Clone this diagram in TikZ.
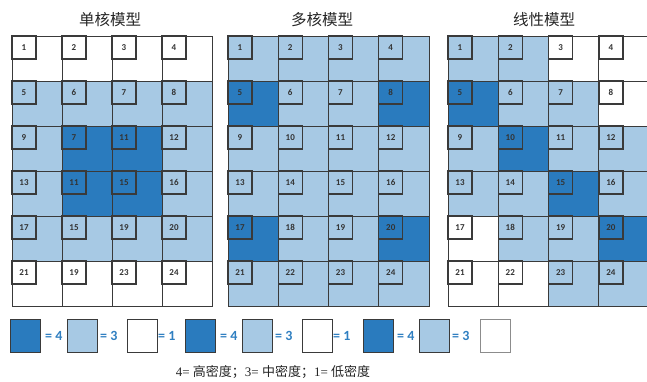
\documentclass[tikz,border=0pt]{standalone}
\usepackage{fontspec}
\setmainfont{Liberation Serif}
\newfontfamily\cjkfont{Noto Sans CJK SC}
\newfontfamily\numfont{Carlito}
\definecolor{D}{HTML}{2A7BBE}
\definecolor{L}{HTML}{A7C9E4}
\definecolor{W}{HTML}{FFFFFF}
\definecolor{edgec}{HTML}{3A3A3A}
\definecolor{legc}{HTML}{2F7FC1}
\tikzset{
  cellbox/.style={draw=edgec, line width=0.9pt, minimum width=#1, minimum height=45pt, anchor=north west, inner sep=0pt, outer sep=0pt},
  tagbox/.style={draw=edgec, line width=1.2pt, minimum width=24pt, minimum height=23pt, anchor=north west, inner sep=0pt, outer sep=0pt, text=black!80, font=\numfont\bfseries\fontsize{9}{9}\selectfont},
  legbox/.style={draw=edgec, line width=1.1pt, minimum width=30pt, minimum height=33pt, anchor=north west, inner sep=0pt},
  legtext/.style={anchor=west, inner sep=0pt, text=legc, font=\numfont\bfseries\fontsize{14}{14}\selectfont},
  titletext/.style={text=black!85, font=\cjkfont\fontsize{15.5}{15.5}\selectfont},
}
\newcommand\gridpanel[4]{%
  \foreach \f/\n [count=\i from 0] in {#4} {
    \pgfmathtruncatemacro\rr{int(\i/4)}
    \pgfmathtruncatemacro\cc{mod(\i,4)}
    \node[cellbox=#3pt, fill=\f] (#1-\i) at ({#2+#3*\cc},{36+45*\rr}) {};
    \node[tagbox, fill=\f] (#1-t\i) at (#1-\i.north west) {\n};
  }
}
\begin{document}
\begin{tikzpicture}[x=1pt,y=-1pt]
\useasboundingbox (0,0) rectangle (647,381);
\clip (0,0) rectangle (647,381);
\fill[white] (0,0) rectangle (647,381);
% titles
\node[titletext] (t1) at (110,20) {单核模型};
\node[titletext] (t2) at (322,20) {多核模型};
\node[titletext] (t3) at (544,20) {线性模型};
% grids
\gridpanel{a}{12}{50}{W/1,W/2,W/3,W/4,L/5,L/6,L/7,L/8,L/9,D/7,D/11,L/12,L/13,D/11,D/15,L/16,L/17,L/15,L/19,L/20,W/21,W/19,W/23,W/24}
\gridpanel{b}{228}{50.25}{L/1,L/2,L/3,L/4,D/5,L/6,L/7,D/8,L/9,L/10,L/11,L/12,L/13,L/14,L/15,L/16,D/17,L/18,L/19,D/20,L/21,L/22,L/23,L/24}
\gridpanel{c}{448}{50.3}{L/1,L/2,W/3,W/4,D/5,L/6,L/7,W/8,L/9,D/10,L/11,L/12,L/13,L/14,D/15,L/16,W/17,L/18,L/19,D/20,W/21,W/22,L/23,L/24}
% legends
\node[legbox, fill=D] (la1) at (10,319) {};
\node[legtext] (la2) at (45,335.5) {= 4};
\node[legbox, fill=L] (la3) at (67,319) {};
\node[legtext] (la4) at (100,335.5) {= 3};
\node[legbox, fill=W] (la5) at (127,319) {};
\node[legtext] (la6) at (158,335.5) {= 1};
\node[legbox, fill=D] (lb1) at (185,319) {};
\node[legtext] (lb2) at (220,335.5) {= 4};
\node[legbox, fill=L] (lb3) at (242,319) {};
\node[legtext] (lb4) at (275,335.5) {= 3};
\node[legbox, fill=W] (lb5) at (302,319) {};
\node[legtext] (lb6) at (333,335.5) {= 1};
\node[legbox, fill=D] (lc1) at (363,319) {};
\node[legtext] (lc2) at (397,335.5) {= 4};
\node[legbox, fill=L] (lc3) at (419,319) {};
\node[legtext] (lc4) at (452,335.5) {= 3};
\node[legbox, fill=W, draw=black!45] (lc5) at (480,319) {};
% caption
\node[font=\fontsize{13}{13}\selectfont, text=black!85] (cap) at (273,372) {4= {\cjkfont 高密度；}3= {\cjkfont 中密度；}1= {\cjkfont 低密度}};
\end{tikzpicture}
\end{document}
